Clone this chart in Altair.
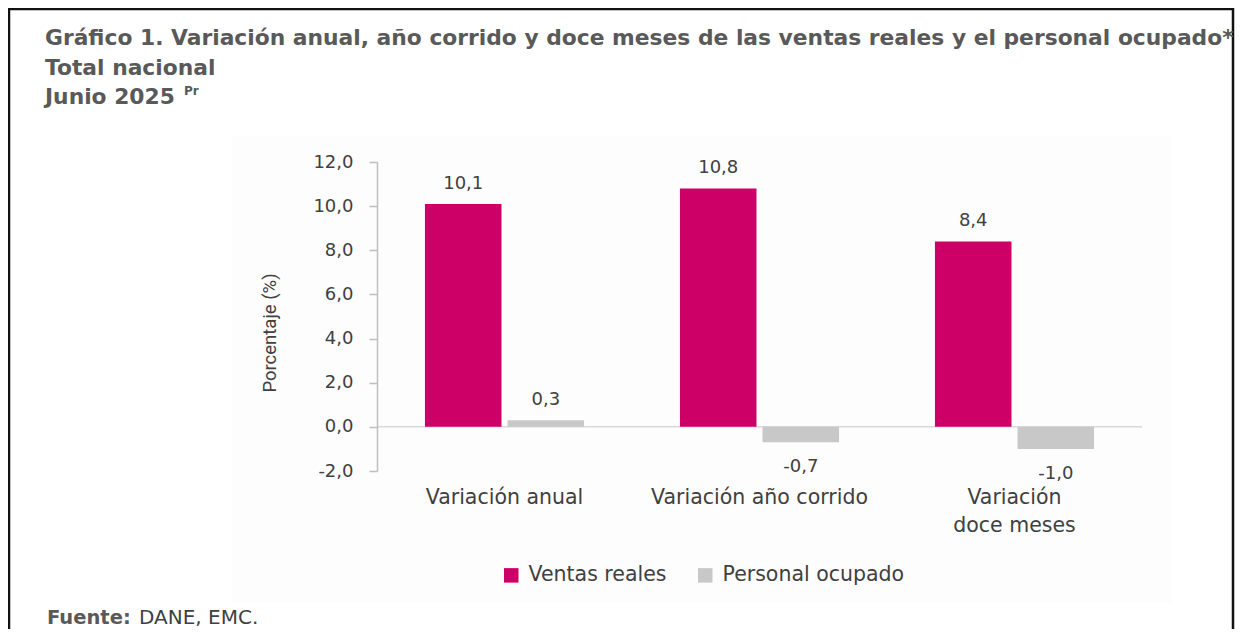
import altair as alt
import pandas as pd

categories = ["Variación anual", "Variación año corrido", "Variación doce meses"]
series = ["Ventas reales", "Personal ocupado"]
ventas = [10.1, 10.8, 8.4]
personal = [0.3, -0.7, -1.0]
colors = ["#CC0066", "#C8C8C8"]
y_ticks = [-2, 0, 2, 4, 6, 8, 10, 12]

title_lines = [
    "Gráfico 1. Variación anual, año corrido y doce meses de las ventas reales y el personal ocupado*",
    "Total nacional",
    "Junio 2025",
]
superscript = "Pr"
y_title = "Porcentaje (%)"
source_bold = "Fuente:"
source_text = "DANE, EMC."

FONT = "DejaVu Sans"
TXT = "#404040"
TITLE_C = "#595959"
FMT = "replace(replace(format({v}, '.1f'), '.', ','), '\u2212', '-')"

rows = []
for c, v, p in zip(categories, ventas, personal):
    rows.append({"cat": c, "serie": series[0], "valor": v})
    rows.append({"cat": c, "serie": series[1], "valor": p})
df = pd.DataFrame(rows)

x_enc = alt.X(
    "cat:N",
    sort=categories,
    scale=alt.Scale(paddingInner=0.376, paddingOuter=0.188),
    axis=alt.Axis(
        title=None, ticks=False, domain=False, labelAngle=0, zindex=1,
        labelFont=FONT, labelFontSize=20.5, labelColor=TXT, labelLimit=400,
        labelPadding=16, labelLineHeight=28,
        labelExpr="datum.value == 'Variación doce meses' ? ['Variación', 'doce meses'] : datum.value",
    ),
)
xo_enc = alt.XOffset("serie:N", sort=series, scale=alt.Scale(paddingInner=0.073))
y_scale = alt.Scale(domain=[-2, 12], nice=False, zero=False)

bg = alt.Chart(pd.DataFrame({"a": [0]})).mark_rect(fill="#fdfdfd").encode(
    x=alt.value(-145), x2=alt.value(795), y=alt.value(-26), y2=alt.value(441)
)

border = alt.Chart(pd.DataFrame({"a": [0]})).mark_rect(
    fillOpacity=0, stroke="#111111", strokeWidth=2.5
).encode(x=alt.value(-368), x2=alt.value(856), y=alt.value(-153), y2=alt.value(520))

bars = alt.Chart(df).mark_bar().encode(
    x=x_enc,
    xOffset=xo_enc,
    y=alt.Y(
        "valor:Q",
        scale=y_scale,
        axis=alt.Axis(
            title=None, grid=False, values=y_ticks, zindex=1,
            labelExpr=FMT.format(v="datum.value"),
            labelFont=FONT, labelFontSize=18, labelColor=TXT, labelPadding=16,
            tickSize=8, tickColor="#BFBFBF", domainColor="#BFBFBF",
            domainWidth=1.5, tickWidth=1.5,
        ),
    ),
    color=alt.Color(
        "serie:N",
        sort=series,
        scale=alt.Scale(domain=series, range=colors),
        legend=alt.Legend(
            title=None, orient="none", legendX=124, legendY=403,
            direction="horizontal", symbolType="square", symbolSize=210,
            symbolStrokeWidth=0, labelFont=FONT, labelFontSize=20.5,
            labelColor=TXT, columnPadding=28, labelOffset=7, labelLimit=400,
        ),
    ),
)

zero = alt.Chart(pd.DataFrame({"z": [0]})).mark_rule(color="#D9D9D9", strokeWidth=1.5).encode(
    y=alt.Y("z:Q", scale=y_scale)
)

lab_base = alt.Chart(df).transform_calculate(lab=FMT.format(v="datum.valor"))
pos_labels = lab_base.transform_filter("datum.valor >= 0").mark_text(
    font=FONT, fontSize=18, color=TXT, baseline="middle", dy=-20
).encode(x=alt.X("cat:N", sort=categories), xOffset=alt.XOffset("serie:N", sort=series),
         y=alt.Y("valor:Q", scale=y_scale), text="lab:N")
neg_labels = lab_base.transform_filter("datum.valor < 0").mark_text(
    font=FONT, fontSize=18, color=TXT, baseline="middle", dy=25
).encode(x=alt.X("cat:N", sort=categories), xOffset=alt.XOffset("serie:N", sort=series),
         y=alt.Y("valor:Q", scale=y_scale), text="lab:N")

title = alt.Chart(pd.DataFrame({"a": [0]})).mark_text(
    align="left", baseline="middle", font=FONT, fontSize=21.8, fontWeight="bold",
    color=TITLE_C, lineHeight=29.5
).encode(x=alt.value(-332), y=alt.value(-124), text=alt.value(title_lines))

sup = alt.Chart(pd.DataFrame({"a": [0]})).mark_text(
    align="left", baseline="middle", font=FONT, fontSize=12, fontWeight="bold", color=TITLE_C
).encode(x=alt.value(-193), y=alt.value(-71), text=alt.value(superscript))

ytitle = alt.Chart(pd.DataFrame({"a": [0]})).mark_text(
    align="center", baseline="middle", font="Roboto", fontSize=18.5, color=TXT, angle=270
).encode(x=alt.value(-107), y=alt.value(171), text=alt.value(y_title))

src1 = alt.Chart(pd.DataFrame({"a": [0]})).mark_text(
    align="left", baseline="middle", font=FONT, fontSize=19.5, fontWeight="bold", color=TITLE_C
).encode(x=alt.value(-330), y=alt.value(456), text=alt.value(source_bold))
src2 = alt.Chart(pd.DataFrame({"a": [0]})).mark_text(
    align="left", baseline="middle", font=FONT, fontSize=20, color=TXT
).encode(x=alt.value(-238), y=alt.value(456), text=alt.value(source_text))

chart = alt.layer(
    bg, border, zero, bars, pos_labels, neg_labels, title, sup, ytitle, src1, src2
).properties(
    width=765, height=309,
    padding={"left": 369, "top": 154, "right": 93, "bottom": 158},
    autosize=alt.AutoSizeParams(type="none"),
).configure_view(strokeWidth=0).configure(background="white")

chart.save("out.html", embed_options={"renderer": "svg", "actions": False})
